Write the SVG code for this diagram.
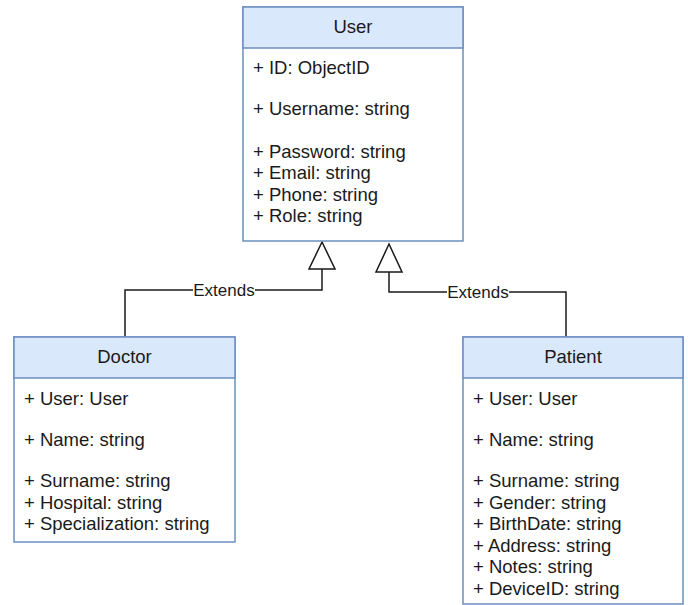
<svg xmlns="http://www.w3.org/2000/svg" width="688" height="605" viewBox="0 0 688 605">
  <style>
    .box { fill: #ffffff; stroke: #6c8ebf; stroke-width: 1.5; }
    .head { fill: #dae8fc; stroke: #6c8ebf; stroke-width: 1.5; }
    .title { font-family: "Liberation Sans", Arial, sans-serif; font-size: 18.5px; fill: #1a1a1a; text-anchor: middle; }
    .attr { font-family: "Liberation Sans", Arial, sans-serif; font-size: 18.5px; fill: #1a1a1a; }
    .edge { fill: none; stroke: #1a1a1a; stroke-width: 1.5; }
    .tri { fill: #ffffff; stroke: #1a1a1a; stroke-width: 1.5; }
    .lbl { font-family: "Liberation Sans", Arial, sans-serif; font-size: 17px; fill: #1a1a1a; text-anchor: middle; }
  </style>

  <g id="connectors">
    <!-- Doctor extends User -->
    <path class="edge" d="M125 337 V290 H322 V269"/>
    <polygon class="tri" points="322,242 309,269 335,269"/>
    <rect x="193" y="281" width="62" height="18" fill="#ffffff"/>
    <text class="lbl" x="224" y="296">Extends</text>
    <!-- Patient extends User -->
    <path class="edge" d="M566 337 V292 H389 V272"/>
    <polygon class="tri" points="389,244 376,272 402,272"/>
    <rect x="447" y="283" width="62" height="18" fill="#ffffff"/>
    <text class="lbl" x="478" y="298">Extends</text>
  </g>

  <g id="user">
    <rect class="box" x="243" y="7" width="220" height="234"/>
    <rect class="head" x="243" y="7" width="220" height="41"/>
    <text class="title" x="353" y="33">User</text>
    <text class="attr" x="253" y="74">+ ID: ObjectID</text>
    <text class="attr" x="253" y="115">+ Username: string</text>
    <text class="attr" x="253" y="157.5">+ Password: string</text>
    <text class="attr" x="253" y="179">+ Email: string</text>
    <text class="attr" x="253" y="200.5">+ Phone: string</text>
    <text class="attr" x="253" y="222">+ Role: string</text>
  </g>

  <g id="doctor">
    <rect class="box" x="14" y="337" width="221" height="205"/>
    <rect class="head" x="14" y="337" width="221" height="41"/>
    <text class="title" x="124.5" y="363">Doctor</text>
    <text class="attr" x="24" y="405">+ User: User</text>
    <text class="attr" x="24" y="446">+ Name: string</text>
    <text class="attr" x="24" y="487">+ Surname: string</text>
    <text class="attr" x="24" y="508.5">+ Hospital: string</text>
    <text class="attr" x="24" y="530">+ Specialization: string</text>
  </g>

  <g id="patient">
    <rect class="box" x="463" y="337" width="220" height="267"/>
    <rect class="head" x="463" y="337" width="220" height="41"/>
    <text class="title" x="573" y="363">Patient</text>
    <text class="attr" x="473" y="405">+ User: User</text>
    <text class="attr" x="473" y="446">+ Name: string</text>
    <text class="attr" x="473" y="487">+ Surname: string</text>
    <text class="attr" x="473" y="508.5">+ Gender: string</text>
    <text class="attr" x="473" y="530">+ BirthDate: string</text>
    <text class="attr" x="473" y="551.5">+ Address: string</text>
    <text class="attr" x="473" y="573">+ Notes: string</text>
    <text class="attr" x="473" y="594.5">+ DeviceID: string</text>
  </g>
</svg>
